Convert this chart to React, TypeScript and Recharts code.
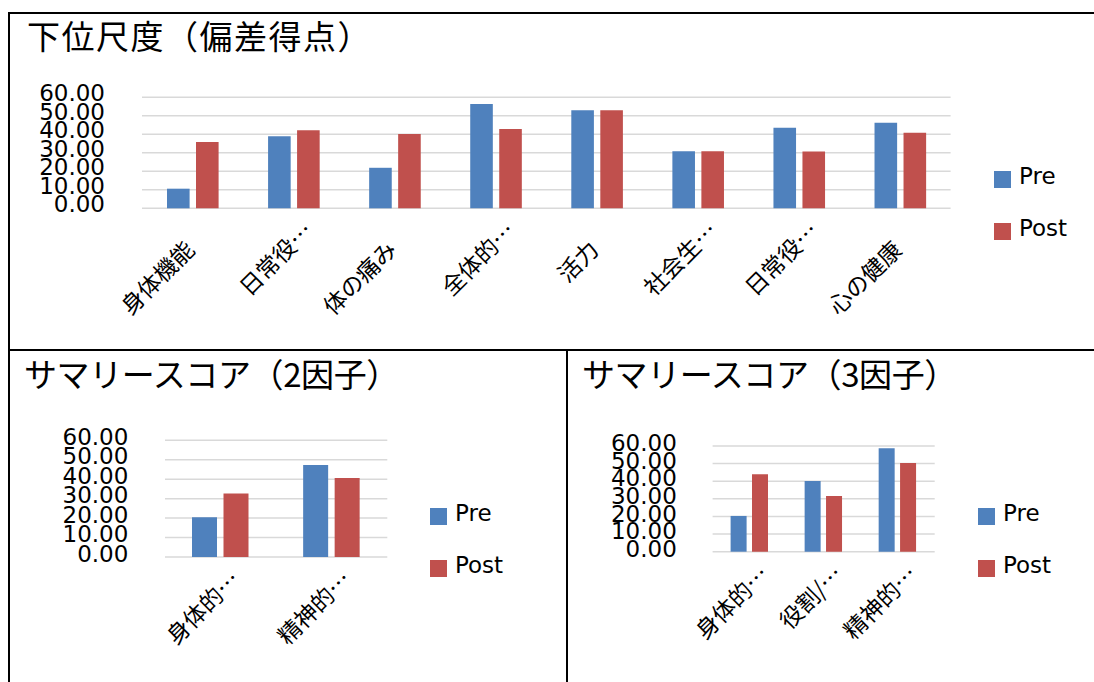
import { Bar, BarChart, CartesianGrid, Legend, XAxis, YAxis } from "recharts";

// 下位尺度（偏差得点）
const subscaleLabels = ["身体機能", "日常役…", "体の痛み", "全体的…", "活力", "社会生…", "日常役…", "心の健康"];
const subscalePre = [10.6, 39.0, 21.9, 56.4, 53.0, 30.9, 43.5, 46.3];
const subscalePost = [35.9, 42.2, 40.2, 42.9, 53.0, 30.9, 30.7, 40.8];

// サマリースコア（2因子）
const twoFactorLabels = ["身体的…", "精神的…"];
const twoFactorPre = [20.4, 47.3];
const twoFactorPost = [32.7, 40.6];

// サマリースコア（3因子）
const threeFactorLabels = ["身体的…", "役割/…", "精神的…"];
const threeFactorPre = [20.3, 40.1, 58.7];
const threeFactorPost = [43.9, 31.6, 50.3];

const seriesNames = ["Pre", "Post"];
const yTicks = [0, 10, 20, 30, 40, 50, 60];

const PRE = "#4f81bd";
const POST = "#c0504d";
const GRID = "#d9d9d9";
const JP = "'Noto Sans CJK JP', sans-serif";
const LATIN = "'DejaVu Sans', Verdana, sans-serif";

type TickProps = { x?: number; y?: number; payload?: { value: string } };

// labels cut with "…" sit about one character further out than full ones
function CategoryTick({ x = 0, y = 0, payload }: TickProps) {
  const label = String(payload?.value ?? "");
  const cut = label.endsWith("…");
  const ax = x + (cut ? 21 : 3.5);
  const ay = y + (cut ? 24 : 43);
  return (
    <text x={ax} y={ay} transform={`rotate(-45 ${ax} ${ay})`} textAnchor="end" fontSize={23} fontFamily={JP} fill="#000">
      {label}
    </text>
  );
}

function SeriesLegend({ payload, rowHeight }: { payload?: any[]; rowHeight: number }) {
  // keep series order, not the alphabetical one
  const items = [...(payload ?? [])].sort((a, b) => seriesNames.indexOf(a.value) - seriesNames.indexOf(b.value));
  return (
    <div>
      {items.map((item) => (
        <div key={item.value} style={{ display: "flex", alignItems: "center", height: rowHeight }}>
          <span style={{ display: "inline-block", width: 17, height: 17, background: item.color }} />
          <span style={{ marginLeft: 8, fontSize: 23, fontFamily: LATIN, lineHeight: 1, position: "relative", top: -3, color: "#000" }}>
            {item.value}
          </span>
        </div>
      ))}
    </div>
  );
}

type ChartProps = {
  labels: string[];
  pre: number[];
  post: number[];
  left: number;
  top: number;
  width: number;
  height: number;
  plotTop: number;
  plotRight: number;
  yWidth: number;
  yGap: number;
  xHeight: number;
  barSize: number;
  barGap: number;
  tickDy: number;
  legendLeft: number;
  legendTop: number;
  legendRow: number;
};

function ScoreChart(p: ChartProps) {
  const data = p.labels.map((label, i) => ({ label, pre: p.pre[i], post: p.post[i] }));
  return (
    <div style={{ position: "absolute", left: p.left, top: p.top }}>
      <BarChart
        width={p.width}
        height={p.height}
        data={data}
        barGap={p.barGap}
        margin={{ top: p.plotTop, right: p.plotRight, bottom: 0, left: 0 }}
      >
        <CartesianGrid vertical={false} stroke={GRID} strokeWidth={1.5} />
        <XAxis
          dataKey="label"
          interval={0}
          height={p.xHeight}
          tickSize={0}
          tickMargin={0}
          axisLine={false}
          tickLine={false}
          tick={(t: TickProps) => <CategoryTick {...t} />}
        />
        <YAxis
          domain={[0, 60]}
          ticks={yTicks}
          interval={0}
          width={p.yWidth}
          tickSize={0}
          tickMargin={p.yGap}
          axisLine={false}
          tickLine={false}
          tick={{ fontSize: 23, fontFamily: LATIN, fill: "#000", dy: p.tickDy }}
          tickFormatter={(v: number) => v.toFixed(2)}
        />
        <Legend
          layout="vertical"
          align="center"
          verticalAlign="middle"
          wrapperStyle={{ left: p.legendLeft, top: p.legendTop, width: "auto" }}
          content={(l: any) => <SeriesLegend payload={l.payload} rowHeight={p.legendRow} />}
        />
        <Bar dataKey="pre" name="Pre" fill={PRE} barSize={p.barSize} isAnimationActive={false} />
        <Bar dataKey="post" name="Post" fill={POST} barSize={p.barSize} isAnimationActive={false} />
      </BarChart>
    </div>
  );
}

const line = (left: number, top: number, width: number, height: number) => (
  <div style={{ position: "absolute", left, top, width, height, background: "#000" }} />
);

const title = (text: string, left: number, top: number, spacing: number) => (
  <div
    style={{
      position: "absolute",
      left,
      top,
      fontSize: 33,
      lineHeight: 1,
      letterSpacing: spacing,
      fontFamily: JP,
      color: "#000",
      whiteSpace: "nowrap",
    }}
  >
    {text}
  </div>
);

export default function App() {
  return (
    <div style={{ position: "absolute", left: 0, top: 0, width: 1094, height: 682, overflow: "hidden", background: "#fff" }}>
      {line(8, 12, 1086, 2)}
      {line(8, 12, 2, 670)}
      {line(8, 349, 1086, 2)}
      {line(566, 349, 2, 333)}

      {title("下位尺度（偏差得点）", 27, 19, 1.5)}
      {title("サマリースコア（2因子）", 24, 357, -0.4)}
      {title("サマリースコア（3因子）", 582, 357, -0.4)}

      <ScoreChart
        labels={subscaleLabels}
        pre={subscalePre}
        post={subscalePost}
        left={10}
        top={60}
        width={1080}
        height={285}
        plotTop={37.3}
        plotRight={139.4}
        yWidth={132}
        yGap={37}
        xHeight={136.7}
        barSize={22.6}
        barGap={6.4}
        tickDy={-4}
        legendLeft={984}
        legendTop={93.5}
        legendRow={51.7}
      />
      <ScoreChart
        labels={twoFactorLabels}
        pre={twoFactorPre}
        post={twoFactorPost}
        left={10}
        top={400}
        width={545}
        height={270}
        plotTop={40.3}
        plotRight={167.7}
        yWidth={155}
        yGap={36.6}
        xHeight={113}
        barSize={25}
        barGap={6.5}
        tickDy={-3.5}
        legendLeft={420}
        legendTop={90}
        legendRow={52}
      />
      <ScoreChart
        labels={threeFactorLabels}
        pre={threeFactorPre}
        post={threeFactorPost}
        left={575}
        top={400}
        width={515}
        height={270}
        plotTop={46}
        plotRight={155.3}
        yWidth={137.6}
        yGap={35.8}
        xHeight={118.3}
        barSize={16}
        barGap={5.4}
        tickDy={-3}
        legendLeft={403}
        legendTop={90.3}
        legendRow={52}
      />
    </div>
  );
}
